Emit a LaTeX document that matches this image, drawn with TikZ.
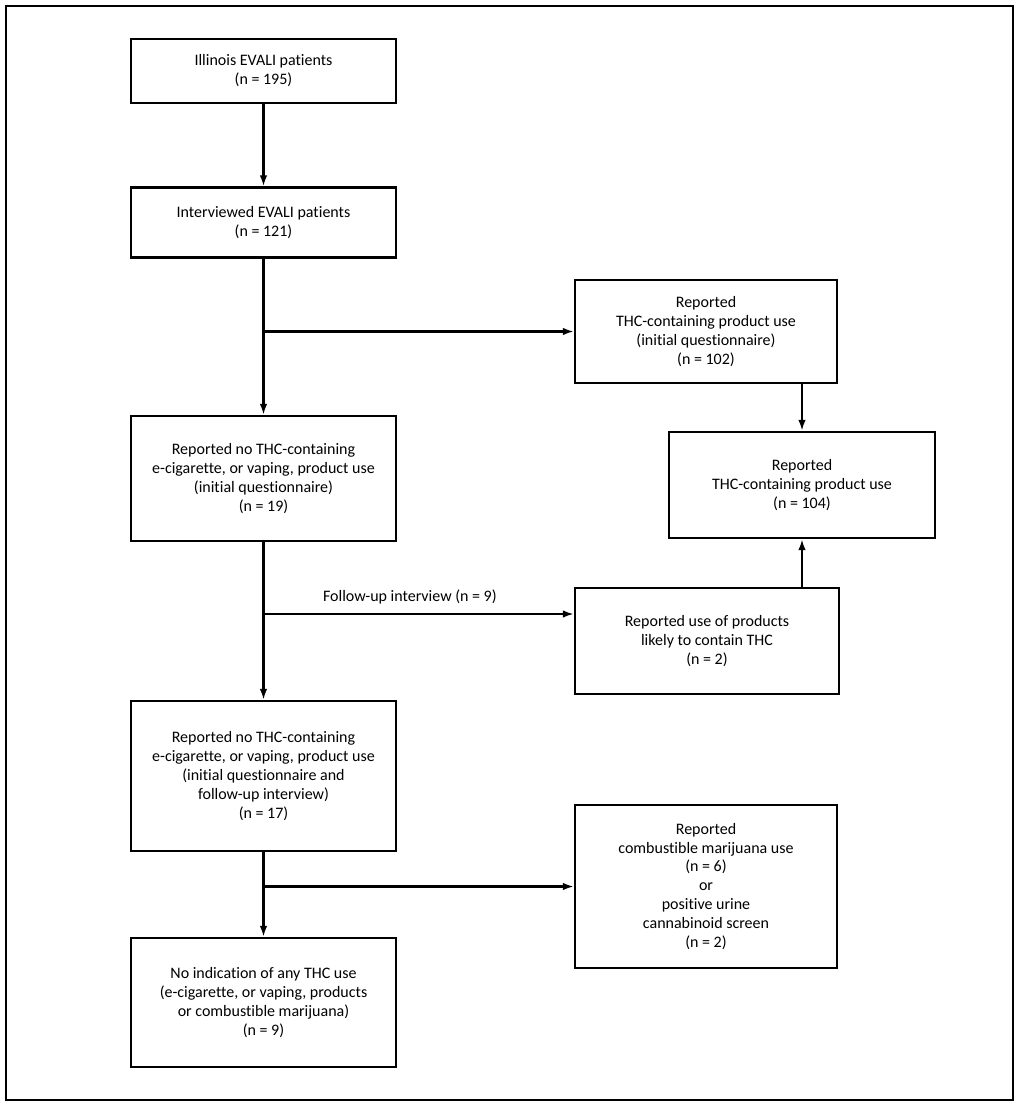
\documentclass[tikz,border=0pt]{standalone}
\usepackage{fontspec}
\setmainfont{Carlito}[Ligatures={NoCommon,NoContextual}]
\usetikzlibrary{arrows.meta,calc}

\begin{document}
\begin{tikzpicture}[x=0.02cm, y=-0.02cm]
\tikzset{every node/.style={font=\fontsize{9.1}{10.8}\selectfont},
    box/.style={draw, line width=1.3pt, align=center, inner sep=0pt},
    arr/.style={line width=1.2pt, -{Latex[length=2.2mm, width=1.5mm]}}}
        \useasboundingbox (0, 0) rectangle (1020, 1109);
        \draw[line width=1pt] (6, 6) rectangle (1013, 1100);

        \node[box, minimum width=5.3cm, minimum height=1.28cm] (illinois) at (263.5, 71) {Illinois EVALI patients\\(n = 195)};
        \node[box, minimum width=5.3cm, minimum height=1.4cm] (interviewed) at (263.5, 222.5) {Interviewed EVALI patients\\(n = 121)};
        \node[box, minimum width=5.24cm, minimum height=2.06cm] (thcinit) at (706, 331.5) {Reported\\THC-containing product use\\(initial questionnaire)\\(n = 102)};
        \node[box, minimum width=5.3cm, minimum height=2.5cm] (nothc) at (263.5, 478.5) {Reported no THC-containing\\e-cigarette, or vaping, product use\\(initial questionnaire)\\(n = 19)};
        \node[box, minimum width=5.32cm, minimum height=2.12cm] (thcall) at (802, 485) {Reported\\THC-containing product use\\(n = 104)};
        \node[box, minimum width=5.28cm, minimum height=2.12cm] (likely) at (707, 641) {Reported use of products\\likely to contain THC\\(n = 2)};
        \node[box, minimum width=5.3cm, minimum height=3cm] (nothcfu) at (263.5, 776) {Reported no THC-containing\\e-cigarette, or vaping, product use\\(initial questionnaire and\\follow-up interview)\\(n = 17)};
        \node[box, minimum width=5.24cm, minimum height=3.26cm] (combust) at (706, 886.5) {Reported\\combustible marijuana use\\(n = 6)\\or\\positive urine\\cannabinoid screen\\(n = 2)};
        \node[box, minimum width=5.3cm, minimum height=2.58cm] (noind) at (263.5, 1002.5) {No indication of any THC use\\(e-cigarette, or vaping, products\\or combustible marijuana)\\(n = 9)};

        \coordinate (br1) at (interviewed.south |- thcinit.west);
        \coordinate (br2) at ($(nothc.south |- likely.west)+(0, -27)$);
        \coordinate (br3) at (nothcfu.south |- combust.west);

        \draw[arr] (illinois) -- (interviewed);
        \draw[arr] (interviewed) -- (nothc);
        \draw[arr] (nothc) -- (nothcfu);
        \draw[arr] (nothcfu) -- (noind);
        \draw[arr] (br1) -- (thcinit.west);
        \draw[arr] (br2) -- (br2 -| likely.west) node[midway, above=1.5pt, xshift=-5pt] (fulabel) {Follow-up interview (n = 9)};
        \draw[arr] (br3) -- (combust.west);
        \draw[arr] (thcinit.south -| thcall.north) -- (thcall.north);
        \draw[arr] (likely.north -| thcall.south) -- (thcall.south);
\end{tikzpicture}
\end{document}
